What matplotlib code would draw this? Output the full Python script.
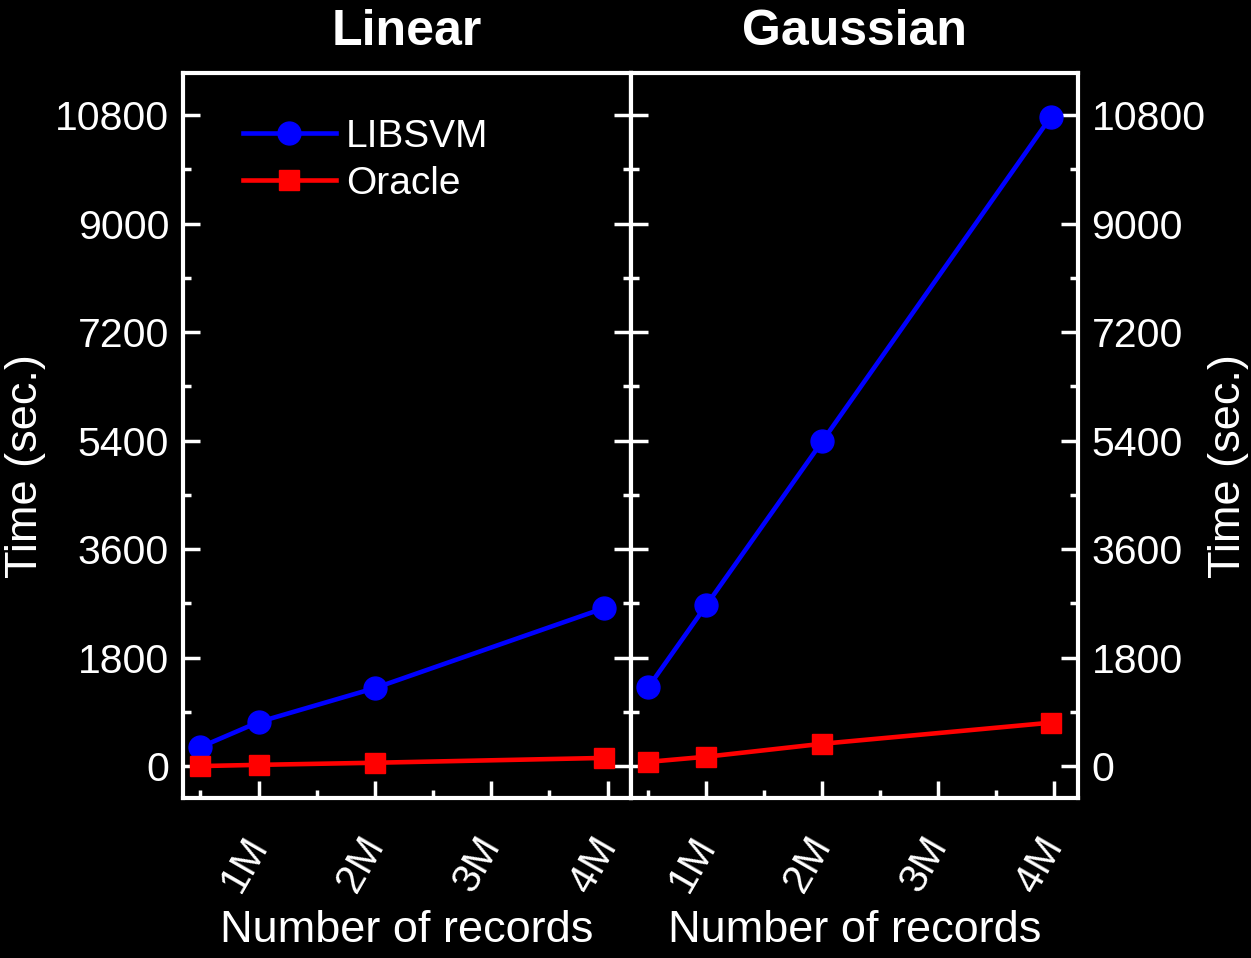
import matplotlib
matplotlib.use("Agg")
import matplotlib.pyplot as plt
from matplotlib.ticker import MultipleLocator, FixedLocator

plt.rcParams['font.family'] = ['Liberation Sans', 'DejaVu Sans']

# 数据（从图中读取，单位：秒）
records = [0.5, 1.0, 2.0, 3.97]          # 百万条记录
xticks = [1, 2, 3, 4]
xtick_labels = ['1M', '2M', '3M', '4M']
yticks = [0, 1800, 3600, 5400, 7200, 9000, 10800]

linear_libsvm = [315, 730, 1294, 2620]
linear_oracle = [0, 20, 55, 135]
gauss_libsvm = [1310, 2670, 5390, 10770]
gauss_oracle = [70, 155, 370, 720]

fig = plt.figure(figsize=(12.51, 9.58), dpi=100, facecolor='black')
ax1 = fig.add_axes([0.1463, 0.167, 0.358, 0.757])
ax2 = fig.add_axes([0.5044, 0.167, 0.357, 0.757])

for ax, libsvm, oracle, title in [(ax1, linear_libsvm, linear_oracle, 'Linear'),
                                  (ax2, gauss_libsvm, gauss_oracle, 'Gaussian')]:
    ax.set_facecolor('black')
    ax.plot(records, libsvm, color='#0000ff', lw=3.3, marker='o', ms=16.5, label='LIBSVM')
    ax.plot(records, oracle, color='#ff0000', lw=3.3, marker='s', ms=15, label='Oracle')
    ax.set_xlim(0.35, 4.2)
    ax.set_ylim(-530, 11500)
    ax.xaxis.set_major_locator(FixedLocator(xticks))
    ax.xaxis.set_minor_locator(MultipleLocator(0.5))
    ax.yaxis.set_major_locator(FixedLocator(yticks))
    ax.yaxis.set_minor_locator(MultipleLocator(900))
    ax.set_xticklabels(xtick_labels, rotation=60, ha='right', va='center',
                       rotation_mode='anchor')
    for s in ax.spines.values():
        s.set_color('white')
        s.set_linewidth(3)
    ax.tick_params(which='both', direction='in', colors='white', width=2.5,
                   left=True, right=True, top=False, bottom=True, labelsize=29.5)
    ax.tick_params(which='major', length=12)
    ax.tick_params(which='minor', length=6)
    ax.tick_params(axis='x', pad=30)
    ax.set_title(title, color='white', fontsize=36, fontweight='bold', pad=20)
    ax.set_xlabel('Number of records', color='white', fontsize=32.5, labelpad=8)

ax1.set_yticklabels([str(v) for v in yticks])
ax1.tick_params(axis='y', labelleft=True, labelright=False, pad=10)
ax1.set_ylabel('Time (sec.)', color='white', fontsize=32.5)
ax1.yaxis.set_label_coords(-0.305, 0.458)
ax2.tick_params(axis='y', labelleft=False, labelright=True, pad=10)
ax2.set_yticklabels([str(v) for v in yticks])
ax2.yaxis.set_label_position('right')
ax2.set_ylabel('Time (sec.)', color='white', fontsize=32.5)
ax2.yaxis.set_label_coords(1.293, 0.458)

leg = ax1.legend(loc='upper left', bbox_to_anchor=(0.055, 0.985), frameon=False,
                 fontsize=28, handlelength=2.4, handletextpad=0.25, labelspacing=0.28)
for t in leg.get_texts():
    t.set_color('white')

fig.savefig('out.png', dpi=100, facecolor='black')
